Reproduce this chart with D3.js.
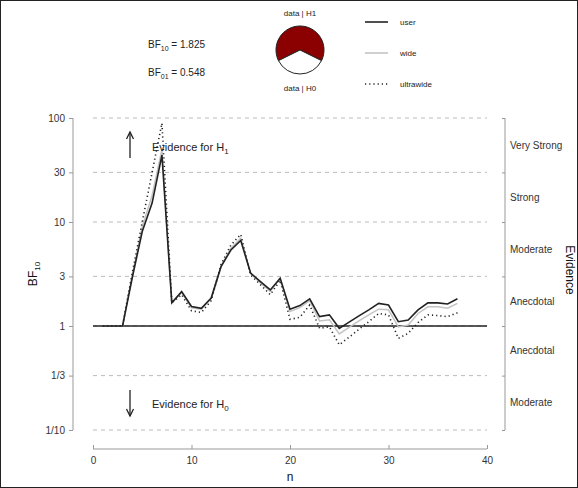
<!DOCTYPE html>
<html><head><meta charset="utf-8">
<script src="https://cdn.jsdelivr.net/npm/d3@7"></script>
<style>body{margin:0;background:#fff}svg{display:block;font-family:"Liberation Sans",Arial,sans-serif}</style>
</head><body><svg id="c" width="578" height="488"></svg>
<script>
const nValues = [1,2,3,4,5,6,7,8,9,10,11,12,13,14,15,16,17,18,19,20,21,22,23,24,25,26,27,28,29,30,31,32,33,34,35,36,37];
const userBF = [1,1,1,2.96,8.1,15.2,44,1.67,2.14,1.54,1.48,1.86,3.72,5.38,6.64,3.23,2.67,2.22,2.87,1.45,1.57,1.82,1.23,1.28,0.95,1.09,1.25,1.43,1.65,1.59,1.10,1.14,1.43,1.67,1.67,1.63,1.825];
const wideBF = [1,1,1,3.1,9,18,50,1.67,2.1,1.5,1.45,1.85,3.8,5.6,7.0,3.2,2.6,2.15,2.9,1.38,1.5,1.75,1.12,1.15,0.84,0.97,1.12,1.28,1.45,1.43,0.98,1.02,1.32,1.53,1.53,1.48,1.65];
const ultraBF = [1,1,1,3.3,10,30,89,1.67,2.0,1.4,1.35,1.75,3.9,6.0,7.6,3.1,2.5,2.0,2.75,1.16,1.21,1.59,0.95,0.98,0.66,0.78,0.93,1.1,1.32,1.28,0.76,0.85,1.08,1.28,1.26,1.23,1.34];
const yTickValues = [0.1, 1/3, 1, 3, 10, 30, 100];
const yTickLabels = ["1/10","1/3","1","3","10","30","100"];
const xTickValues = [0,10,20,30,40];
const evidenceLabels = ["Very Strong","Strong","Moderate","Anecdotal","Anecdotal","Moderate"];
const evidenceBounds = [[30,100],[10,30],[3,10],[1,3],[1/3,1],[0.1,1/3]];
const seriesNames = ["user","wide","ultrawide"];
const bf10 = 1.825, bf01 = 0.548;

const svg = d3.select("#c");
const x = d3.scaleLinear().domain([0,40]).range([93,487]);
const y = d3.scaleLog().domain([0.1,100]).range([430,118]);
const txt = "#333";

svg.append("rect").attr("x",0.5).attr("y",0.5).attr("width",577).attr("height",487).attr("fill","none").attr("stroke","#222");

// grid
svg.append("g").selectAll("line").data(yTickValues).join("line")
  .attr("x1",x(0)).attr("x2",x(40)).attr("y1",d=>y(d)).attr("y2",d=>y(d))
  .attr("stroke","#bbb").attr("stroke-dasharray","4,4").attr("stroke-width",1);

// left axis
const yAxis = d3.axisLeft(y).tickValues(yTickValues).tickFormat((d,i)=>yTickLabels[i]).tickSize(4).tickPadding(4);
const gl = svg.append("g").attr("transform","translate(73,0)").call(yAxis);
gl.select(".domain").attr("stroke","#999").attr("d",`M0,${y(0.1)}V${y(100)}`);
gl.selectAll(".tick line").attr("stroke","#999");
gl.selectAll("text").attr("fill",txt).attr("font-size",10).attr("font-family","Liberation Sans, Arial, sans-serif");

// right axis
const yR = d3.axisLeft(y).tickValues(yTickValues).tickFormat("").tickSize(3);
const gr = svg.append("g").attr("transform","translate(505,0)").call(yR);
gr.select(".domain").attr("stroke","#999").attr("d",`M0,${y(0.1)}V${y(100)}`);
gr.selectAll(".tick line").attr("stroke","#999");
svg.append("g").selectAll("text").data(evidenceLabels).join("text")
  .attr("x",510).attr("y",(d,i)=>Math.sqrt(y(evidenceBounds[i][0])*y(evidenceBounds[i][1]))*0+ (y(evidenceBounds[i][0])+y(evidenceBounds[i][1]))/2)
  .attr("dy","0.35em").attr("font-size",10).attr("fill",txt).text(d=>d);
svg.append("text").attr("transform","translate(566,270) rotate(90)").attr("text-anchor","middle")
  .attr("font-size",12).attr("fill","#111").text("Evidence");

// x axis
const xAxis = d3.axisBottom(x).tickValues(xTickValues).tickSize(-4).tickPadding(8);
const gx = svg.append("g").attr("transform","translate(0,449)").call(xAxis);
gx.select(".domain").attr("stroke","#999").attr("d",`M${x(0)},0H${x(40)}`);
gx.selectAll(".tick line").attr("stroke","#999");
gx.selectAll("text").attr("fill",txt).attr("font-size",10).attr("font-family","Liberation Sans, Arial, sans-serif");
svg.append("text").attr("x",x(20)).attr("y",481).attr("text-anchor","middle").attr("font-size",12).attr("fill","#111").text("n");

// y title
const yt = svg.append("text").attr("transform","translate(37,274) rotate(-90)").attr("text-anchor","middle").attr("font-size",12).attr("fill","#111");
yt.append("tspan").text("BF");
yt.append("tspan").attr("font-size",8).attr("dy",3).text("10");

// reference line at 1
svg.append("line").attr("x1",x(0)).attr("x2",x(40)).attr("y1",y(1)).attr("y2",y(1)).attr("stroke","#222").attr("stroke-width",1.3);

// series
const line = d3.line().x((d,i)=>x(nValues[i])).y(d=>y(d));
svg.append("path").datum(wideBF).attr("d",line).attr("fill","none").attr("stroke","#c4c4c4").attr("stroke-width",1.5);
svg.append("path").datum(ultraBF).attr("d",line).attr("fill","none").attr("stroke","#222").attr("stroke-width",1.6).attr("stroke-dasharray","1.2,3");
svg.append("path").datum(userBF).attr("d",line).attr("fill","none").attr("stroke","#222").attr("stroke-width",1.6);

// arrows
function arrow(x0,y0,y1){
  svg.append("line").attr("x1",x0).attr("x2",x0).attr("y1",y0).attr("y2",y1).attr("stroke","#222").attr("stroke-width",1.3);
  const s = y1<y0?1:-1;
  svg.append("path").attr("d",`M${x0-3.5},${y1+s*7}L${x0},${y1}L${x0+3.5},${y1+s*7}`).attr("fill","none").attr("stroke","#222").attr("stroke-width",1.3);
}
arrow(130,158,132);
arrow(130,390,416);
function evText(yy,sub){
  const t = svg.append("text").attr("x",152).attr("y",yy).attr("font-size",11).attr("fill","#222");
  t.append("tspan").text("Evidence for H");
  t.append("tspan").attr("font-size",8).attr("dy",3).text(sub);
}
evText(151,"1");
evText(408,"0");

// BF texts
function bfText(yy,sub,val){
  const t = svg.append("text").attr("x",148).attr("y",yy).attr("font-size",10).attr("fill","#222");
  t.append("tspan").text("BF");
  t.append("tspan").attr("font-size",7).attr("dy",2.5).text(sub);
  t.append("tspan").attr("dy",-2.5).text(" = "+val);
}
bfText(48,"10",bf10.toFixed(3));
bfText(76,"01",bf01.toFixed(3));

// pie
const pcx=300, pcy=50, pr=24;
const pH1 = bf10/(1+bf10);
const pieData = [pH1, 1-pH1];
const pie = d3.pie().sort(null).startAngle(Math.PI - (1-pH1)*Math.PI + 2*Math.PI*0).endAngle(Math.PI - (1-pH1)*Math.PI + 2*Math.PI);
// start so that H0 slice centered at bottom: H1 slice from (pi + (1-p)pi) to ... 
const arcs = d3.pie().sort(null).startAngle(Math.PI + (1-pH1)*Math.PI).endAngle(Math.PI + (1-pH1)*Math.PI + 2*Math.PI)(pieData);
const arc = d3.arc().innerRadius(0).outerRadius(pr);
svg.append("g").attr("transform",`translate(${pcx},${pcy})`).selectAll("path").data(arcs).join("path")
  .attr("d",arc).attr("fill",(d,i)=>i===0?"#8b0000":"#fff").attr("stroke","#222").attr("stroke-width",1);
svg.append("text").attr("x",pcx).attr("y",16).attr("text-anchor","middle").attr("font-size",8).attr("fill","#222").text("data | H1");
svg.append("text").attr("x",pcx).attr("y",91).attr("text-anchor","middle").attr("font-size",8).attr("fill","#222").text("data | H0");

// legend
const legY = [22,53,84];
const lg = svg.append("g");
seriesNames.forEach((nm,i)=>{
  const l = lg.append("line").attr("x1",365).attr("x2",388).attr("y1",legY[i]).attr("y2",legY[i]).attr("stroke-width",1.6);
  if(i===0) l.attr("stroke","#222");
  if(i===1) l.attr("stroke","#c4c4c4");
  if(i===2) l.attr("stroke","#222").attr("stroke-dasharray","1.2,3");
  lg.append("text").attr("x",400).attr("y",legY[i]).attr("dy","0.35em").attr("font-size",8).attr("fill","#222").text(nm);
});
</script></body></html>
